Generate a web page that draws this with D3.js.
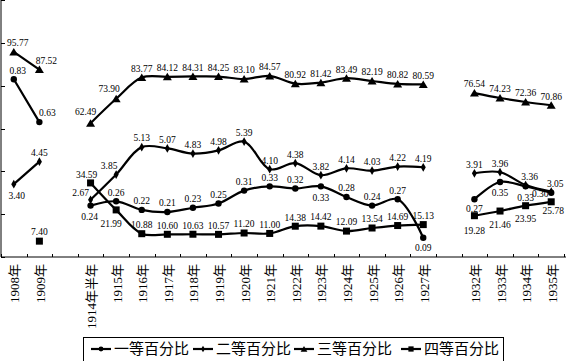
<!DOCTYPE html>
<html><head><meta charset="utf-8">
<script src="https://cdn.jsdelivr.net/npm/d3@7"></script>
<style>
html,body{margin:0;padding:0;background:#fff;}
svg{display:block;}
</style></head>
<body>
<svg id="chart" width="566" height="361"></svg>
<script>
// ---------- DATA ----------
const categories = ["1908年","1909年","","1914年半年","1915年","1916年","1917年","1918年","1919年","1920年","1921年","1922年","1923年","1924年","1925年","1926年","1927年","","1932年","1933年","1934年","1935年"];
const seriesNames = ["一等百分比","二等百分比","三等百分比","四等百分比"];
const first  = [0.83,0.63,null,0.24,0.26,0.22,0.21,0.23,0.25,0.31,0.33,0.32,0.33,0.28,0.24,0.27,0.09,null,0.27,0.35,0.33,0.30];
const second = [3.40,4.45,null,2.67,3.85,5.13,5.07,4.83,4.98,5.39,4.10,4.38,3.82,4.14,4.03,4.22,4.19,null,3.91,3.96,3.36,3.05];
const third  = [95.77,87.52,null,62.49,73.90,83.77,84.12,84.31,84.25,83.10,84.57,80.92,81.42,83.49,82.19,80.82,80.59,null,76.54,74.23,72.36,70.86];
const fourth = [null,7.40,null,34.59,21.99,10.88,10.60,10.63,10.57,11.20,11.00,14.38,14.42,12.09,13.54,14.69,15.13,null,19.28,21.46,23.95,25.78];
// the original chart plots the small series magnified on the shared axis
const plotFactor = [100,10,1,1];
const yTicks = [0,20,40,60,80,100,120];

// ---------- LAYOUT / STYLE ----------
const svg = d3.select("#chart");
const x = d3.scaleBand().domain(d3.range(categories.length)).range([1,564]).padding(0);
const y = d3.scaleLinear().domain([0,120]).range([257,0]);
const cx = i => x(i) + x.bandwidth()/2;
const numFont = "'Liberation Serif','Times New Roman',serif";
const cjkFont = "'Liberation Serif','Noto Sans CJK SC',serif";

// label placement per series: default + overrides [dx,dy]
const labelDefault = [[0,-9],[0,-9],[0,-9],[0,-9]];
const labelOverride = [
  {0:[4,-9],1:[8,-9],3:[-1,11],12:[0,11],16:[0,10],18:[0,9],19:[0,11],20:[0,11],21:[-11,1]},
  {0:[3,11],3:[-10,-7],4:[-7,-9],20:[4,-8],21:[4,-8]},
  {0:[4,-9],1:[7,-9],3:[-5,-11],4:[-7,-10]},
  {3:[-4,-8],4:[-5,14],18:[0,15],19:[0,14],20:[0,13],21:[2,9]}
];

const series = [first, second, third, fourth];

// axes
const g = svg.append("g");
g.append("line").attr("x1",1).attr("x2",1).attr("y1",0).attr("y2",257).attr("stroke","#000").attr("stroke-width",1);
g.append("line").attr("x1",1).attr("x2",566).attr("y1",257).attr("y2",257).attr("stroke","#000").attr("stroke-width",1);
g.selectAll(".yt").data(yTicks).enter().append("line")
  .attr("x1",1).attr("x2",5).attr("y1",d=>Math.round(y(d))+0.5).attr("y2",d=>Math.round(y(d))+0.5)
  .attr("stroke","#000").attr("stroke-width",1);
g.selectAll(".xt").data(d3.range(categories.length+1)).enter().append("line")
  .attr("x1",d=>Math.round(x.range()[0]+d*x.step())+0.5).attr("x2",d=>Math.round(x.range()[0]+d*x.step())+0.5)
  .attr("y1",254).attr("y2",257).attr("stroke","#000").attr("stroke-width",1);

// x labels
g.selectAll(".xl").data(categories).enter().append("text")
  .attr("transform",(d,i)=>`translate(${cx(i)+1},264) rotate(-90)`)
  .attr("text-anchor","end").attr("dy","0.35em")
  .attr("font-family",cjkFont).attr("font-size",13).attr("fill","#000")
  .text(d=>d);

// lines
series.forEach((s,k)=>{
  const pts = s.map((v,i)=>({i,v}));
  const line = d3.line().defined(d=>d.v!==null)
    .x(d=>cx(d.i)).y(d=>y(d.v*plotFactor[k])).curve(d3.curveCatmullRom.alpha(0.5));
  svg.append("path").datum(pts).attr("d",line).attr("fill","none")
    .attr("stroke","#000").attr("stroke-width",2.2).attr("stroke-linejoin","round");
});

// markers
function marker(sel,k,px,py){
  if(k===0) sel.append("circle").attr("cx",px).attr("cy",py).attr("r",3.2).attr("fill","#000");
  else if(k===1) sel.append("path").attr("d",d3.symbol(d3.symbolDiamond,22)()).attr("transform",`translate(${px},${py})`).attr("fill","#000");
  else if(k===2) sel.append("path").attr("d",`M${px-4.5},${py+3.5}L${px},${py-4}L${px+4.5},${py+3.5}Z`).attr("fill","#000");
  else sel.append("rect").attr("x",px-3.5).attr("y",py-3.5).attr("width",7).attr("height",7).attr("fill","#000");
}
series.forEach((s,k)=>{
  const mg = svg.append("g");
  s.forEach((v,i)=>{ if(v!==null) marker(mg,k,cx(i),y(v*plotFactor[k])); });
});

// labels
series.forEach((s,k)=>{
  const lg = svg.append("g");
  s.forEach((v,i)=>{
    if(v===null) return;
    const off = labelOverride[k][i] || labelDefault[k];
    lg.append("text").attr("x",cx(i)+off[0]).attr("y",y(v*plotFactor[k])+off[1])
      .attr("text-anchor","middle").attr("dy","0.35em")
      .attr("font-family",numFont).attr("font-size",9.5).attr("fill","#000")
      .text(v.toFixed(2));
  });
});

// legend
const lgd = svg.append("g");
lgd.append("rect").attr("x",83.5).attr("y",337.5).attr("width",420).attr("height",24).attr("fill","#fff").attr("stroke","#000").attr("stroke-width",1);
const legX = [91,193,294,401];
seriesNames.forEach((n,k)=>{
  const lx = legX[k], ly = 349;
  lgd.append("line").attr("x1",lx).attr("x2",lx+20).attr("y1",ly).attr("y2",ly).attr("stroke","#000").attr("stroke-width",2.2);
  const m = lgd.append("g").attr("transform",`translate(${lx+10},${ly}) scale(0.75) translate(${-(lx+10)},${-ly})`);
  marker(m,k,lx+10,ly);
  lgd.append("text").attr("x",lx+23).attr("y",ly).attr("dy","0.35em")
    .attr("font-family",cjkFont).attr("font-size",15).attr("fill","#000").text(n);
});
</script>
</body></html>
